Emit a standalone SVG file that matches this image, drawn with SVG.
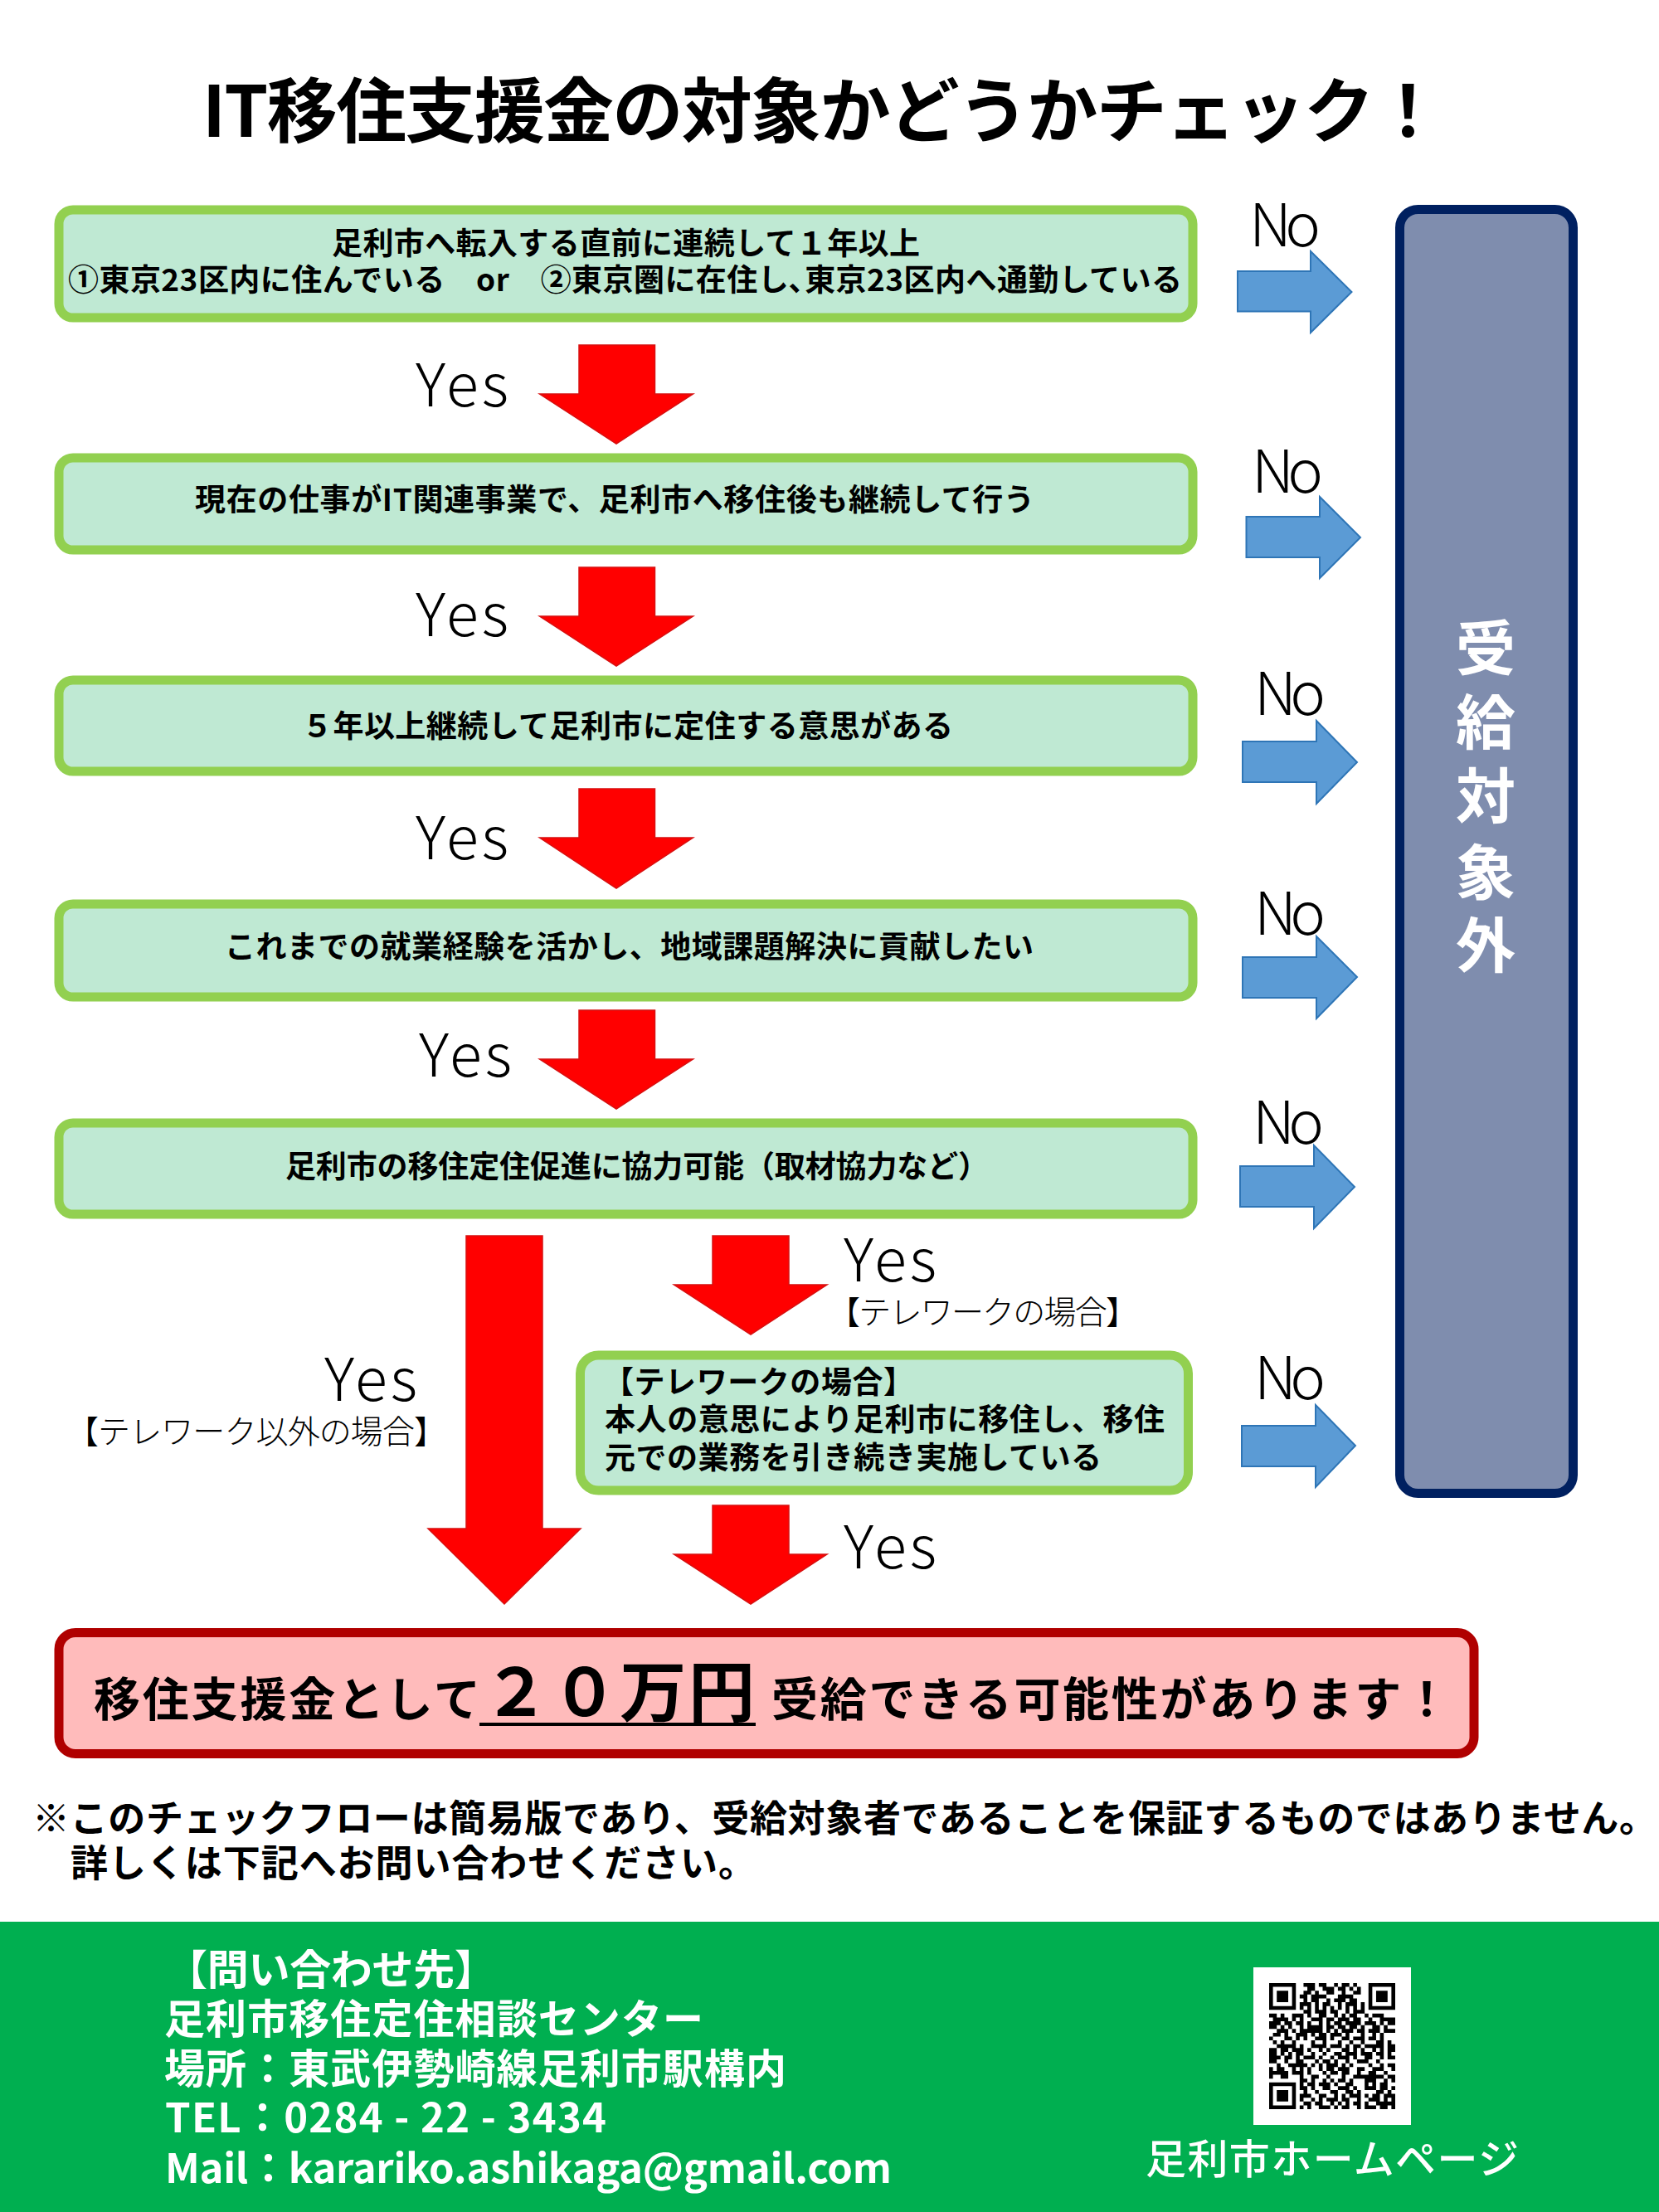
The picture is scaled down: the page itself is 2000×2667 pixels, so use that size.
<svg xmlns="http://www.w3.org/2000/svg" width="2000" height="2667" viewBox="0 0 2000 2667" lang="ja">
<style>
text{font-family:"Noto Sans CJK JP","Noto Sans",sans-serif;fill:#000}
.b{font-weight:700;font-size:37px}
.title{font-weight:700;font-size:85px}
.big{font-weight:700;font-size:56px}
.note{font-weight:700;font-size:45px}
.yn{font-weight:300;font-size:72px}
.sm{font-weight:300;font-size:39px}
.ft{font-weight:700;font-size:49px;fill:#fff}
.v{font-weight:700;font-size:72px;fill:#fff;text-anchor:middle}
.box{fill:#BFE9D3;stroke:#92D050;stroke-width:11}
.red{fill:#FF0000;stroke:#D81010;stroke-width:1.5}
.blue{fill:#5B9BD5;stroke:#2E75B6;stroke-width:2}
</style>
<rect width="2000" height="2667" fill="#fff"/>
<g id="title"><text class="title" x="244" y="165" textLength="1496">IT移住支援金の対象かどうかチェック！</text></g>

<g id="connectors">
<polygon class="red" points="698,416 789.500,416 789.500,475 835.500,475 743,535 650.500,475 698,475"/>
<polygon class="red" points="698,684 789.500,684 789.500,743 835.500,743 743,803 650.500,743 698,743"/>
<polygon class="red" points="698,951 789.500,951 789.500,1010 835.500,1010 743,1071 650.500,1010 698,1010"/>
<polygon class="red" points="698,1218 789.500,1218 789.500,1277 835.500,1277 743,1337 650.500,1277 698,1277"/>
<polygon class="red" points="562,1490 654,1490 654,1843 700,1843 608,1934 516,1843 562,1843"/>
<polygon class="red" points="859,1490 951,1490 951,1549 997,1549 905,1609 812.500,1549 859,1549"/>
<polygon class="red" points="859,1815 951,1815 951,1874 997,1874 905,1934 812.500,1874 859,1874"/>
<polygon class="blue" points="1492,327 1580,327 1580,303 1629.500,352 1580,401 1580,375.500 1492,375.500"/>
<polygon class="blue" points="1502.500,623 1591,623 1591,599 1640,648 1591,697 1591,672 1502.500,672"/>
<polygon class="blue" points="1498,894 1587,894 1587,869 1636,919 1587,969 1587,943 1498,943"/>
<polygon class="blue" points="1498,1154 1587,1154 1587,1129 1636,1178 1587,1228 1587,1203 1498,1203"/>
<polygon class="blue" points="1495,1406 1584,1406 1584,1381 1633,1431 1584,1481 1584,1455 1495,1455"/>
<polygon class="blue" points="1497,1719 1586,1719 1586,1694 1634,1743 1586,1793 1586,1768 1497,1768"/>
<text class="yn" x="501" y="490" textLength="112">Yes</text>
<text class="yn" x="501" y="767" textLength="112">Yes</text>
<text class="yn" x="501" y="1036" textLength="112">Yes</text>
<text class="yn" x="505" y="1298" textLength="112">Yes</text>
<text class="yn" x="1017" y="1545" textLength="112">Yes</text>
<text class="sm" x="998" y="1596" textLength="374">【テレワークの場合】</text>
<text class="yn" x="391" y="1689" textLength="112">Yes</text>
<text class="sm" x="80" y="1740" textLength="458">【テレワーク以外の場合】</text>
<text class="yn" x="1017" y="1891" textLength="112">Yes</text>
<text class="yn" x="1506" y="297" textLength="86">No</text>
<text class="yn" x="1509" y="594" textLength="86">No</text>
<text class="yn" x="1512" y="862" textLength="86">No</text>
<text class="yn" x="1512" y="1127" textLength="86">No</text>
<text class="yn" x="1510" y="1379" textLength="86">No</text>
<text class="yn" x="1512" y="1687" textLength="86">No</text>
</g>

<g id="node1"><rect class="box" x="71" y="253" width="1367" height="130" rx="17"/>
<text class="b" x="400" y="307" textLength="709">足利市へ転入する直前に連続して１年以上</text>
<text class="b" x="82" y="351" textLength="1343">①東京23区内に住んでいる　or　②東京圏に在住し､東京23区内へ通勤している</text></g>
<g id="node2"><rect class="box" x="71" y="552" width="1367" height="111" rx="17"/>
<text class="b" x="235" y="616" textLength="1012">現在の仕事がIT関連事業で、足利市へ移住後も継続して行う</text></g>
<g id="node3"><rect class="box" x="71" y="820" width="1367" height="110" rx="17"/>
<text class="b" x="364" y="889" textLength="785">５年以上継続して足利市に定住する意思がある</text></g>
<g id="node4"><rect class="box" x="71" y="1090" width="1367" height="112" rx="17"/>
<text class="b" x="271" y="1155" textLength="975">これまでの就業経験を活かし、地域課題解決に貢献したい</text></g>
<g id="node5"><rect class="box" x="71" y="1354" width="1367" height="110" rx="17"/>
<text class="b" x="344" y="1420" textLength="848">足利市の移住定住促進に協力可能（取材協力など）</text></g>
<g id="node6"><rect class="box" x="699.500" y="1634" width="733" height="163" rx="22"/>
<text class="b" x="727" y="1680" textLength="375">【テレワークの場合】</text>
<text class="b" x="729" y="1725" textLength="675">本人の意思により足利市に移住し、移住</text>
<text class="b" x="729" y="1771" textLength="599">元での業務を引き続き実施している</text></g>

<g id="node7"><rect x="1687.500" y="252.500" width="209" height="1548" rx="22" fill="#7F8DAE" stroke="#002060" stroke-width="11"/>
<text class="v" x="1791" y="808">受</text>
<text class="v" x="1791" y="897">給</text>
<text class="v" x="1791" y="986">対</text>
<text class="v" x="1791" y="1078">象</text>
<text class="v" x="1791" y="1166">外</text></g>

<g id="result"><rect x="71" y="1968.500" width="1706" height="146" rx="20" fill="#FFBBBB" stroke="#B00000" stroke-width="11"/>
<text class="big" x="113" y="2069" textLength="466">移住支援金として</text>
<text class="big" style="font-size:80px" x="582" y="2069" textLength="328">２０万円</text>
<rect x="578" y="2077" width="333" height="4" fill="#000"/>
<text class="big" x="930" y="2069" textLength="818">受給できる可能性があります！</text></g>

<g id="note">
<text class="note" x="39" y="2209" textLength="1958">※このチェックフローは簡易版であり、受給対象者であることを保証するものではありません。</text>
<text class="note" x="85" y="2263" textLength="826">詳しくは下記へお問い合わせください。</text>
</g>

<g id="footer"><rect x="0" y="2317" width="2000" height="350" fill="#00AF50"/>
<text class="ft" style="font-size:50px" x="200" y="2393" textLength="398">【問い合わせ先】</text>
<text class="ft" x="198" y="2452" textLength="650">足利市移住定住相談センター</text>
<text class="ft" x="198" y="2512" textLength="750">場所：東武伊勢崎線足利市駅構内</text>
<text class="ft" x="199" y="2571" textLength="532">TEL：0284 - 22 - 3434</text>
<text class="ft" x="199" y="2632" textLength="876">Mail：karariko.ashikaga@gmail.com</text>
<text class="ft" style="font-weight:500" x="1381" y="2621" textLength="450">足利市ホームページ</text>
</g>

<g id="qr"><rect x="1511" y="2372" width="190" height="190" fill="#fff"/>
<path transform="translate(1530,2391) scale(4.606)" fill="none" stroke="#000" stroke-width="1" d="M0 .5h7M9 .5h3M13 .5h2M17 .5h1M19 .5h2M22 .5h1M26 .5h7
M0 1.500h1M6 1.500h1M10 1.500h2M14 1.500h3M18 1.500h2M21 1.500h1M23 1.500h1M26 1.500h1M32 1.500h1
M0 2.500h1M2 2.500h3M6 2.500h1M9 2.500h2M12 2.500h1M15 2.500h2M19 2.500h1M22 2.500h2M26 2.500h1M28 2.500h3M32 2.500h1
M0 3.500h1M2 3.500h3M6 3.500h1M8 3.500h2M11 3.500h3M14 3.500h1M18 3.500h2M20 3.500h2M26 3.500h1M28 3.500h3M32 3.500h1
M0 4.500h1M2 4.500h3M6 4.500h1M9 4.500h1M11 4.500h2M15 4.500h1M17 4.500h3M21 4.500h2M26 4.500h1M28 4.500h3M32 4.500h1
M0 5.500h1M6 5.500h1M8 5.500h3M12 5.500h1M14 5.500h2M18 5.500h1M20 5.500h3M24 5.500h1M26 5.500h1M32 5.500h1
M0 6.500h7M8 6.500h1M10 6.500h1M12 6.500h1M14 6.500h1M16 6.500h1M18 6.500h1M20 6.500h1M22 6.500h1M24 6.500h1M26 6.500h7
M9 7.500h2M12 7.500h3M16 7.500h2M20 7.500h1M22 7.500h3
M0 8.500h2M3 8.500h1M6 8.500h3M10 8.500h1M13 8.500h2M17 8.500h1M19 8.500h1M21 8.500h2M25 8.500h1M27 8.500h3
M1 9.500h4M6 9.500h1M8 9.500h1M11 9.500h3M15 9.500h2M18 9.500h3M22 9.500h2M26 9.500h1M29 9.500h4
M0 10.500h3M4 10.500h2M7 10.500h2M10 10.500h1M13 10.500h1M15 10.500h1M17 10.500h2M20 10.500h4M25 10.500h3M29 10.500h1M31 10.500h2
M0 11.500h2M3 11.500h1M5 11.500h1M8 11.500h1M10 11.500h4M15 11.500h2M18 11.500h2M21 11.500h2M24 11.500h1M27 11.500h2M30 11.500h1
M2 12.500h3M6 12.500h1M8 12.500h6M15 12.500h1M17 12.500h1M19 12.500h3M23 12.500h2M26 12.500h3M30 12.500h3
M1 13.500h2M4 13.500h1M7 13.500h3M11 13.500h1M13 13.500h2M16 13.500h3M20 13.500h1M24 13.500h1M27 13.500h1M29 13.500h1
M0 14.500h1M4 14.500h2M7 14.500h1M9 14.500h1M12 14.500h3M16 14.500h1M19 14.500h2M22 14.500h3M26 14.500h2M29 14.500h1
M1 15.500h1M3 15.500h1M6 15.500h1M11 15.500h1M14 15.500h1M18 15.500h1M21 15.500h1M24 15.500h1M28 15.500h2M31 15.500h1
M2 16.500h5M8 16.500h1M11 16.500h4M16 16.500h3M20 16.500h1M22 16.500h2M25 16.500h5M31 16.500h2
M0 17.500h2M3 17.500h2M6 17.500h3M10 17.500h1M13 17.500h1M15 17.500h1M19 17.500h2M22 17.500h1M24 17.500h1M27 17.500h1M29 17.500h1M31 17.500h2
M0 18.500h2M3 18.500h1M5 18.500h1M7 18.500h2M11 18.500h1M14 18.500h1M17 18.500h2M20 18.500h3M24 18.500h3M28 18.500h2M31 18.500h1
M0 19.500h3M4 19.500h2M7 19.500h1M9 19.500h3M13 19.500h1M16 19.500h1M18 19.500h3M22 19.500h1M25 19.500h2M29 19.500h1M31 19.500h2
M0 20.500h2M4 20.500h1M7 20.500h2M12 20.500h1M14 20.500h2M17 20.500h1M20 20.500h1M23 20.500h3M28 20.500h1
M2 21.500h1M5 21.500h5M11 21.500h1M13 21.500h1M15 21.500h3M19 21.500h1M21 21.500h1M26 21.500h1M29 21.500h1M31 21.500h2
M0 22.500h1M2 22.500h2M6 22.500h1M8 22.500h1M10 22.500h1M13 22.500h1M15 22.500h2M18 22.500h3M23 22.500h2M27 22.500h3M32 22.500h1
M0 23.500h5M6 23.500h3M10 23.500h1M14 23.500h1M16 23.500h2M19 23.500h2M23 23.500h1M26 23.500h2M30 23.500h1
M0 24.500h1M3 24.500h2M8 24.500h1M11 24.500h2M15 24.500h1M19 24.500h1M22 24.500h3M25 24.500h5M31 24.500h2
M8 25.500h2M11 25.500h1M14 25.500h1M16 25.500h1M18 25.500h2M21 25.500h1M25 25.500h3M30 25.500h1M32 25.500h1
M0 26.500h7M8 26.500h1M10 26.500h2M13 26.500h3M17 26.500h1M20 26.500h2M25 26.500h1M27 26.500h1M29 26.500h2
M0 27.500h1M6 27.500h1M8 27.500h2M11 27.500h1M14 27.500h2M18 27.500h3M22 27.500h1M25 27.500h3M29 27.500h2M32 27.500h1
M0 28.500h1M2 28.500h3M6 28.500h1M9 28.500h1M12 28.500h1M16 28.500h2M20 28.500h2M23 28.500h1M28 28.500h2M31 28.500h1
M0 29.500h1M2 29.500h3M6 29.500h1M8 29.500h3M13 29.500h2M17 29.500h1M19 29.500h1M21 29.500h3M25 29.500h1M27 29.500h2M30 29.500h3
M0 30.500h1M2 30.500h3M6 30.500h1M8 30.500h1M11 30.500h1M13 30.500h1M15 30.500h3M19 30.500h2M23 30.500h1M26 30.500h3M30 30.500h1M32 30.500h1
M0 31.500h1M6 31.500h1M9 31.500h2M12 31.500h2M16 31.500h1M18 31.500h1M20 31.500h1M22 31.500h2M25 31.500h1M28 31.500h5
M0 32.500h7M8 32.500h1M10 32.500h1M13 32.500h3M17 32.500h1M19 32.500h2M23 32.500h1M25 32.500h3M29 32.500h2M32 32.500h1"/></g>
</svg>
